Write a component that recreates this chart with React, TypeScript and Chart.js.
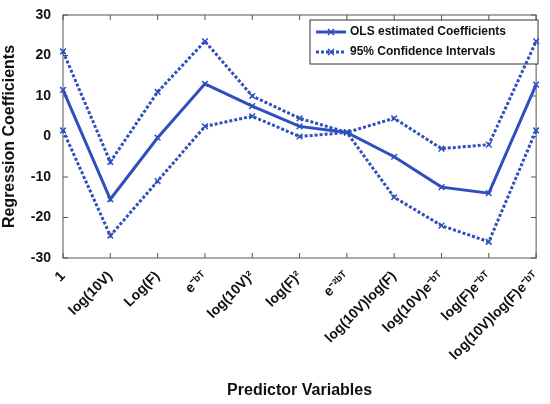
import React, { useEffect, useRef } from "react";
import { Chart, registerables } from "chart.js";
Chart.register(...registerables);

const categories = ["1", "log(10V)", "Log(F)", "e⁻ᵇᵀ", "log(10V)²", "log(F)²", "e⁻²ᵇᵀ", "log(10V)log(F)", "log(10V)e⁻ᵇᵀ", "log(F)e⁻ᵇᵀ", "log(10V)log(F)e⁻ᵇᵀ"];
const ols = [11.5, -15.5, -0.3, 13, 7.5, 2.5, 1, -5, -12.5, -14, 12.8];
const upper = [21, -6.3, 11, 23.5, 10, 4.5, 1, 4.5, -3, -2, 23.5];
const lower = [1.5, -24.5, -11, 2.5, 5, 0, 1, -15, -22, -26, 1.5];
const yTicks = [-30, -20, -10, 0, 10, 20, 30];

const BLUE = "#2f4fbf";
const FONT = "Liberation Sans, Arial, sans-serif";

export default function App() {
  const ref = useRef<HTMLCanvasElement>(null);
  useEffect(() => {
    document.body.style.margin = "0";
    const boxPlugin = {
      id: "box",
      beforeDatasetsDraw(chart: any) {
        const { ctx, chartArea: a, scales } = chart;
        ctx.save();
        ctx.strokeStyle = "#555";
        ctx.lineWidth = 1;
        ctx.strokeRect(a.left, a.top, a.right - a.left, a.bottom - a.top);
        yTicks.forEach((v) => {
          const y = scales.y.getPixelForValue(v);
          ctx.beginPath(); ctx.moveTo(a.left, y); ctx.lineTo(a.left + 5, y);
          ctx.moveTo(a.right, y); ctx.lineTo(a.right - 5, y); ctx.stroke();
        });
        categories.forEach((_, i) => {
          const x = scales.x.getPixelForValue(i);
          ctx.beginPath(); ctx.moveTo(x, a.bottom); ctx.lineTo(x, a.bottom - 5);
          ctx.moveTo(x, a.top); ctx.lineTo(x, a.top + 5); ctx.stroke();
        });
        const lx = 310, ly = 20, lw = 228, lh = 44;
        ctx.fillStyle = "#fff";
        ctx.fillRect(lx, ly, lw, lh);
        ctx.strokeStyle = "#333";
        ctx.strokeRect(lx, ly, lw, lh);
        const items = [
          { t: "OLS estimated Coefficients", dash: [] as number[] },
          { t: "95% Confidence Intervals", dash: [3, 2] },
        ];
        items.forEach((it, k) => {
          const y = ly + 12 + k * 20;
          ctx.strokeStyle = BLUE; ctx.lineWidth = 3; ctx.setLineDash(it.dash);
          ctx.beginPath(); ctx.moveTo(lx + 6, y); ctx.lineTo(lx + 36, y); ctx.stroke();
          ctx.setLineDash([]); ctx.lineWidth = 1.5;
          ctx.beginPath(); ctx.moveTo(lx + 18, y - 3); ctx.lineTo(lx + 24, y + 3);
          ctx.moveTo(lx + 24, y - 3); ctx.lineTo(lx + 18, y + 3); ctx.stroke();
          ctx.fillStyle = "#111"; ctx.font = `bold 12px ${FONT}`;
          ctx.textBaseline = "middle";
          ctx.fillText(it.t, lx + 40, y);
        });
        ctx.restore();
      },
    };
    const ds = (label: string, data: number[], dash: number[]) => ({
      label, data, borderColor: BLUE, backgroundColor: BLUE, borderWidth: 3,
      borderDash: dash, pointStyle: "crossRot", pointRadius: 4, pointBorderWidth: 1.5, tension: 0,
    });
    const chart = new Chart(ref.current!, {
      type: "line",
      data: {
        labels: categories,
        datasets: [ds("OLS estimated Coefficients", ols, []), ds("95% Confidence Intervals", upper, [3, 2]), ds("lower", lower, [3, 2])],
      },
      options: {
        animation: false, responsive: false,
        layout: { padding: { top: 15, right: 5 } },
        plugins: { legend: { display: false }, tooltip: { enabled: false } },
        scales: {
          x: {
            offset: false,
            grid: { display: false },
            border: { display: false },
            afterFit: (s: any) => { s.height = 146; },
            ticks: { maxRotation: 45, minRotation: 45, color: "#111", font: { family: FONT, size: 14, weight: "bold" }, padding: 2 },
            title: { display: true, text: "Predictor Variables", color: "#111", font: { family: FONT, size: 16, weight: "bold" }, padding: { top: 0, bottom: 4 } },
          },
          y: {
            min: -30, max: 30,
            grid: { display: false },
            border: { display: false },
            afterFit: (s: any) => { s.width = 63; },
            ticks: { stepSize: 10, color: "#111", font: { family: FONT, size: 14, weight: "bold" }, padding: 4 },
            title: { display: true, text: "Regression Coefficients", color: "#111", font: { family: FONT, size: 16, weight: "bold" }, padding: 0 },
          },
        },
      },
      plugins: [boxPlugin],
    } as any);
    return () => chart.destroy();
  }, []);
  return <canvas ref={ref} width={550} height={404} style={{ display: "block" }} />;
}
